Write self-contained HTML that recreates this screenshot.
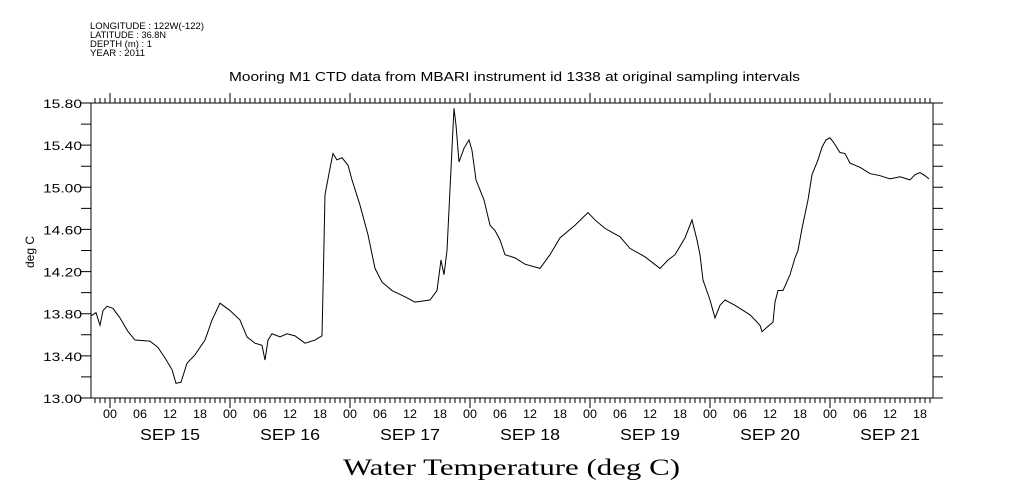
<!DOCTYPE html>
<html><head><meta charset="utf-8"><style>
body{margin:0;background:#fff;}
svg{display:block;font-family:"Liberation Sans",sans-serif;}
</style></head><body>
<svg id="chart" width="1009" height="504" viewBox="0 0 1009 504" xmlns="http://www.w3.org/2000/svg">
<rect width="1009" height="504" fill="#fff"/>
<g font-size="9" fill="#000">
<text x="90" y="29" textLength="114" lengthAdjust="spacingAndGlyphs">LONGITUDE : 122W(-122)</text>
<text x="90" y="38" textLength="76" lengthAdjust="spacingAndGlyphs">LATITUDE : 36.8N</text>
<text x="90" y="47" textLength="62" lengthAdjust="spacingAndGlyphs">DEPTH (m) : 1</text>
<text x="90" y="56" textLength="55" lengthAdjust="spacingAndGlyphs">YEAR : 2011</text>
</g>
<text x="229" y="81" font-size="13" textLength="571" lengthAdjust="spacingAndGlyphs">Mooring M1 CTD data from MBARI instrument id 1338 at original sampling intervals</text>
<text x="343" y="475" font-size="23" textLength="337" lengthAdjust="spacingAndGlyphs" font-family="Liberation Serif, serif">Water Temperature (deg C)</text>
<text x="0" y="0" font-size="12" text-anchor="middle" transform="translate(34,252) rotate(-90)">deg C</text>
<g id="axes"></g>
<g id="series"></g>
</svg>
<script>
const hours=[-3.8,-2.8,-2,-1.4,-0.6,0.6,2,3.6,5,8,9.6,11,12.4,13.2,14.2,15.4,17,19,20.4,22,24,26,27.4,29,30.4,31,31.6,32.4,34,35.4,37,39,41,42.4,42.6,43,44,44.6,45.4,46.4,47.6,48.4,50,51.6,53,54.4,56.4,59,61,64,65.4,66.2,66.8,67.4,68.4,68.8,69.2,69.8,70.8,71.8,72.4,73.2,74.8,76,77,78,79,81,83,86,88,90,93,95.6,97,99,102,104,107,110,111.6,113,115,116.4,117.4,118,118.6,120,121,122,123,125,128,130,130.4,131.6,132.6,133,133.6,134.6,136,137,137.6,138.4,139.6,140.4,141.6,142.4,143.2,144,144.8,146,147,148,150,152,154,156,158,160,161,162,163,163.8];
const temps=[13.78,13.81,13.69,13.83,13.87,13.85,13.76,13.63,13.55,13.54,13.48,13.38,13.27,13.14,13.15,13.33,13.41,13.55,13.74,13.90,13.83,13.74,13.58,13.52,13.50,13.36,13.55,13.61,13.58,13.61,13.59,13.52,13.55,13.59,14.02,14.93,15.18,15.32,15.26,15.28,15.21,15.07,14.83,14.55,14.23,14.10,14.02,13.96,13.91,13.93,14.02,14.31,14.17,14.40,15.37,15.75,15.59,15.24,15.37,15.45,15.35,15.07,14.88,14.64,14.59,14.50,14.36,14.33,14.27,14.23,14.36,14.52,14.64,14.76,14.69,14.61,14.53,14.42,14.34,14.23,14.31,14.36,14.52,14.69,14.50,14.36,14.12,13.93,13.76,13.88,13.93,13.88,13.79,13.69,13.63,13.68,13.72,13.91,14.02,14.02,14.17,14.33,14.40,14.61,14.88,15.12,15.26,15.38,15.45,15.47,15.42,15.33,15.32,15.23,15.19,15.13,15.11,15.08,15.10,15.07,15.12,15.14,15.11,15.08];
const yTickLabels=["13.00","13.40","13.80","14.20","14.60","15.00","15.40","15.80"];
const hourLabels=["00","06","12","18"];
const dayLabels=["SEP 15","SEP 16","SEP 17","SEP 18","SEP 19","SEP 20","SEP 21"];
const L=91,R=933,T=103,B=398,X0=110,PXH=5,YMIN=13,YMAX=15.8;
const sx=h=>X0+h*PXH, sy=v=>B-(v-YMIN)/(YMAX-YMIN)*(B-T);
const NS="http://www.w3.org/2000/svg";
function mk(tag,attrs,parent){const e=document.createElementNS(NS,tag);for(const k in attrs)e.setAttribute(k,attrs[k]);parent.appendChild(e);return e;}
const ax=document.getElementById('axes');
const frame=mk('rect',{x:L,y:T,width:R-L,height:B-T,fill:'none',stroke:'#000','stroke-width':1},ax);


let d='';
for(let i=0;i<=14;i++){const y=sy(13+i*0.2);d+=`M${L-10},${y}H${L}M${R},${y}H${R+10}`;}
for(let h=-3;sx(h)<=R;h++){const x=sx(h);const len=(h%24===0)?10:5;d+=`M${x},${B}V${B+len}M${x},${T}V${T-len}`;}
const tk=mk('path',{d:d,stroke:'#000','stroke-width':1,fill:'none'},ax);


yTickLabels.forEach(s=>{const t=mk('text',{x:L-48,y:sy(parseFloat(s))+5,'font-size':12,textLength:39,lengthAdjust:'spacingAndGlyphs'},ax);t.textContent=s;

});
dayLabels.forEach((s,i)=>{
 hourLabels.forEach((hl,j)=>{const x=sx(i*24+j*6);if(x<L||x>R)return;const t=mk('text',{x:x-7,y:418,'font-size':12,textLength:14,lengthAdjust:'spacingAndGlyphs'},ax);t.textContent=hl;
 
 });
 const t=mk('text',{x:sx(i*24+12)-30,y:440,'font-size':16,textLength:60,lengthAdjust:'spacingAndGlyphs'},ax);t.textContent=s;
 
 
});
const p=mk('polyline',{points:hours.map((h,i)=>sx(h)+','+sy(temps[i])).join(' '),fill:'none',stroke:'#000','stroke-width':1},document.getElementById('series'));


</script>
</body></html>
